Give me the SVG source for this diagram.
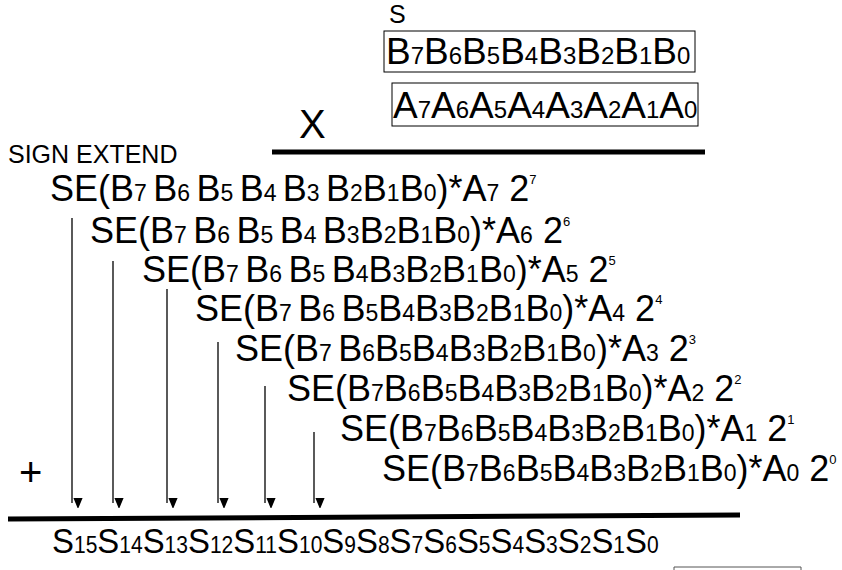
<svg xmlns="http://www.w3.org/2000/svg" width="842" height="570" viewBox="0 0 842 570">
<defs>
<style>
text{font-family:"Liberation Sans",Arial,sans-serif;fill:#000}
.big{font-size:36px}
.bx{font-size:37px}
.s{font-size:23px}
.sb{font-size:24px}
.sup{font-size:13px}
.lbl{font-size:25px}
.se{font-size:25px}
.x{font-size:40px}
.plus{font-size:40px}
.box{fill:#fff;stroke:#000;stroke-width:1}
.arr{stroke:#000;stroke-width:1.3;fill:none;marker-end:url(#ah)}
.thick{stroke:#000;stroke-width:5}
</style>
<marker id="ah" markerWidth="10" markerHeight="12" refX="5" refY="12" orient="auto" markerUnits="userSpaceOnUse" viewBox="0 0 10 12">
<path d="M0,0 L10,0 L5,12 Z" fill="#000" transform="rotate(-90 5 6)"/>
</marker>
</defs>
<rect width="842" height="570" fill="#fff"/>

<g id="label-s"><text x="389" y="23" class="lbl">S</text></g>

<g id="b-box">
<rect class="box" x="384" y="31" width="311" height="41"/>
<text x="386" y="64" class="bx">B<tspan class="sb">7</tspan>B<tspan class="sb">6</tspan>B<tspan class="sb">5</tspan>B<tspan class="sb">4</tspan>B<tspan class="sb">3</tspan>B<tspan class="sb">2</tspan>B<tspan class="sb">1</tspan>B<tspan class="sb">0</tspan></text>
</g>

<g id="a-box">
<rect class="box" x="392" y="83" width="306" height="43"/>
<text x="393" y="118" class="bx">A<tspan class="sb">7</tspan>A<tspan class="sb">6</tspan>A<tspan class="sb">5</tspan>A<tspan class="sb">4</tspan>A<tspan class="sb">3</tspan>A<tspan class="sb">2</tspan>A<tspan class="sb">1</tspan>A<tspan class="sb">0</tspan></text>
</g>

<g id="times"><text x="299" y="138" class="x">X</text></g>
<g id="sign-extend"><text x="8" y="163" class="se">SIGN EXTEND</text></g>
<g id="plus"><text x="19" y="486" class="plus">+</text></g>

<g id="row7"><text x="50" y="201" class="big">SE(B<tspan class="s">7 </tspan>B<tspan class="s">6 </tspan>B<tspan class="s">5 </tspan>B<tspan class="s">4 </tspan>B<tspan class="s">3 </tspan>B<tspan class="s">2</tspan>B<tspan class="s">1</tspan>B<tspan class="s">0</tspan>)*A<tspan class="s">7</tspan> 2<tspan class="sup" dy="-17">7</tspan></text></g>
<g id="row6"><text x="90" y="243" class="big">SE(B<tspan class="s">7 </tspan>B<tspan class="s">6 </tspan>B<tspan class="s">5 </tspan>B<tspan class="s">4 </tspan>B<tspan class="s">3</tspan>B<tspan class="s">2</tspan>B<tspan class="s">1</tspan>B<tspan class="s">0</tspan>)*A<tspan class="s">6</tspan> 2<tspan class="sup" dy="-17">6</tspan></text></g>
<g id="row5"><text x="142" y="282" class="big">SE(B<tspan class="s">7 </tspan>B<tspan class="s">6 </tspan>B<tspan class="s">5 </tspan>B<tspan class="s">4</tspan>B<tspan class="s">3</tspan>B<tspan class="s">2</tspan>B<tspan class="s">1</tspan>B<tspan class="s">0</tspan>)*A<tspan class="s">5</tspan> 2<tspan class="sup" dy="-17">5</tspan></text></g>
<g id="row4"><text x="195" y="321" class="big">SE(B<tspan class="s">7 </tspan>B<tspan class="s">6 </tspan>B<tspan class="s">5</tspan>B<tspan class="s">4</tspan>B<tspan class="s">3</tspan>B<tspan class="s">2</tspan>B<tspan class="s">1</tspan>B<tspan class="s">0</tspan>)*A<tspan class="s">4</tspan> 2<tspan class="sup" dy="-17">4</tspan></text></g>
<g id="row3"><text x="235" y="361" class="big">SE(B<tspan class="s">7 </tspan>B<tspan class="s">6</tspan>B<tspan class="s">5</tspan>B<tspan class="s">4</tspan>B<tspan class="s">3</tspan>B<tspan class="s">2</tspan>B<tspan class="s">1</tspan>B<tspan class="s">0</tspan>)*A<tspan class="s">3</tspan> 2<tspan class="sup" dy="-17">3</tspan></text></g>
<g id="row2"><text x="287" y="401" class="big">SE(B<tspan class="s">7</tspan>B<tspan class="s">6</tspan>B<tspan class="s">5</tspan>B<tspan class="s">4</tspan>B<tspan class="s">3</tspan>B<tspan class="s">2</tspan>B<tspan class="s">1</tspan>B<tspan class="s">0</tspan>)*A<tspan class="s">2</tspan> 2<tspan class="sup" dy="-17">2</tspan></text></g>
<g id="row1"><text x="340" y="441" class="big">SE(B<tspan class="s">7</tspan>B<tspan class="s">6</tspan>B<tspan class="s">5</tspan>B<tspan class="s">4</tspan>B<tspan class="s">3</tspan>B<tspan class="s">2</tspan>B<tspan class="s">1</tspan>B<tspan class="s">0</tspan>)*A<tspan class="s">1</tspan> 2<tspan class="sup" dy="-17">1</tspan></text></g>
<g id="row0"><text x="382" y="481" class="big">SE(B<tspan class="s">7</tspan>B<tspan class="s">6</tspan>B<tspan class="s">5</tspan>B<tspan class="s">4</tspan>B<tspan class="s">3</tspan>B<tspan class="s">2</tspan>B<tspan class="s">1</tspan>B<tspan class="s">0</tspan>)*A<tspan class="s">0</tspan> 2<tspan class="sup" dy="-17">0</tspan></text></g>

<g id="result"><text transform="translate(52,553) scale(0.914,1)" x="0" y="0" class="big">S<tspan class="s">15</tspan>S<tspan class="s">14</tspan>S<tspan class="s">13</tspan>S<tspan class="s">12</tspan>S<tspan class="s">11</tspan>S<tspan class="s">10</tspan>S<tspan class="s">9</tspan>S<tspan class="s">8</tspan>S<tspan class="s">7</tspan>S<tspan class="s">6</tspan>S<tspan class="s">5</tspan>S<tspan class="s">4</tspan>S<tspan class="s">3</tspan>S<tspan class="s">2</tspan>S<tspan class="s">1</tspan>S<tspan class="s">0</tspan></text></g>

<g id="partial-box"><path d="M674,575 L674,567 L801,567 L801,575" fill="none" stroke="#555" stroke-width="1"/></g>

<g id="connectors">
<line class="thick" x1="272" y1="152" x2="705" y2="152"/>
<line class="thick" x1="8" y1="519" x2="740" y2="515"/>
<line class="arr" x1="72" y1="218" x2="72" y2="503"/>
<line class="arr" x1="113" y1="261" x2="113" y2="503"/>
<line class="arr" x1="167" y1="289" x2="167" y2="503"/>
<line class="arr" x1="218" y1="342" x2="218" y2="503"/>
<line class="arr" x1="265" y1="386" x2="265" y2="503"/>
<line class="arr" x1="314" y1="432" x2="314" y2="503"/>
</g>
</svg>
